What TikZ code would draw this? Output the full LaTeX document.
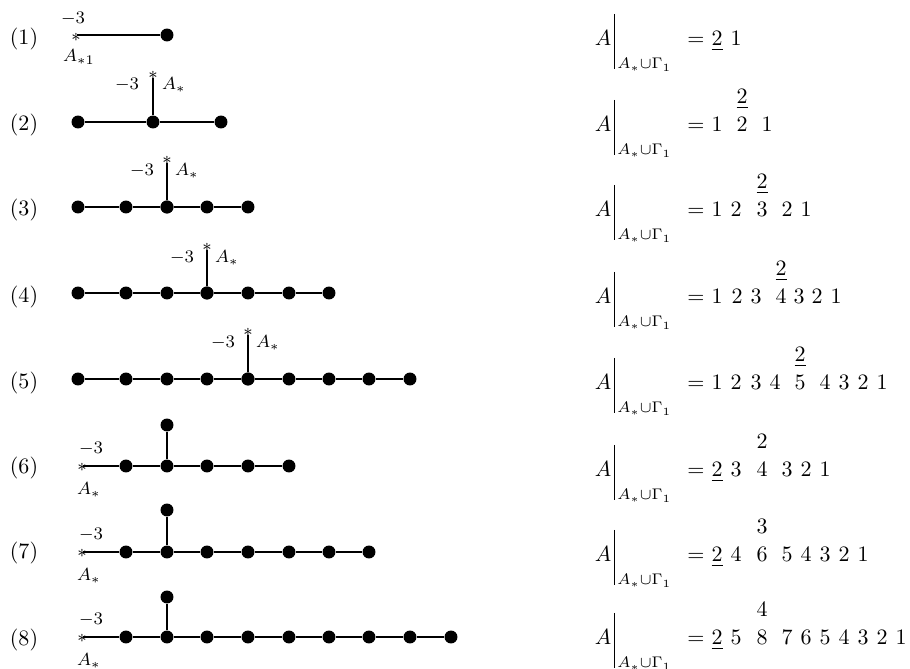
\documentclass[tikz,border=0pt]{standalone}
\usepackage{amsmath}
\newcommand{\restrA}[2]{%
  \node[num] (A#1) at (603,#2+7) {$A$};
  \coordinate (Bt#1) at (614,#2-25);
  \coordinate (Bb#1) at (614,#2+30);
  \draw[barline] (Bt#1) -- (Bb#1);
  \node[inner sep=0pt,anchor=base west] (S#1) at (617,#2+30) {$\scriptstyle A_*\cup\Gamma_1$};
  \node[num] (E#1) at (696,#2+7) {$=$};
}
\begin{document}
\begin{tikzpicture}[x=0.4545pt,y=-0.4545pt,
  dotn/.style={circle,fill=black,inner sep=0pt,minimum size=5.9pt},
  bond/.style={line width=1pt},
  barline/.style={line width=0.45pt},
  lbl/.style={inner sep=0pt,font=\footnotesize},
  starn/.style={inner sep=0pt,font=\footnotesize},
  num/.style={inner sep=0pt,anchor=base},
  rowlbl/.style={inner sep=0pt}]
\useasboundingbox (0,0) rectangle (910,669);

% ---------- row labels
\foreach \i/\y in {1/39,2/125,3/210,4/297,5/383,6/468,7/553,8/640}
  \node[rowlbl] (L\i) at (24,\y) {(\i)};

% ---------- row 1
\coordinate (s1) at (77,35);
\node[starn] (st1) at (76,37.5) {$*$};
\node[dotn] (r1a) at (167,35) {};
\draw[bond] (s1) -- (r1a);
\node[lbl] (m1) at (73,19) {$-3$};
\node[lbl] (a1) at (79,57) {$A_{*1}$};

% ---------- row 2
\node[dotn] (r2a) at (78,122) {};
\node[dotn] (r2b) at (153,122) {};
\node[dotn] (r2c) at (221,122) {};
\node[starn] (st2) at (153,75) {$*$};
\coordinate (t2) at (153,78);
\draw[bond] (r2a) -- (r2b) -- (r2c);
\draw[bond] (r2b) -- (t2);
\node[lbl] (m2) at (127,85) {$-3$};
\node[lbl] (a2) at (174,85) {$A_*$};

% ---------- rows 3-5 (vertical star)
\foreach \r/\y/\list/\c/\sy in {3/207/{78,126,167,207,248}/167/160,
                              4/293/{78,126,167,207,248,289,329}/207/247,
                              5/379/{78,126,167,207,248,289,329,369,410}/248/332}{
  \foreach \x [count=\k] in \list {
    \node[dotn] (r\r-\k) at (\x,\y) {};
  }
  \foreach \x [count=\k, remember=\k as \kp (initially 0)] in \list {
    \ifnum\k>1 \draw[bond] (r\r-\kp) -- (r\r-\k); \fi
  }
  \node[dotn] (c\r) at (\c,\y) {};
  \node[starn] (st\r) at (\c,\sy) {$*$};
  \coordinate (t\r) at (\c,\sy+3);
  \draw[bond] (c\r) -- (t\r);
  \node[lbl] (m\r) at (\c-25,\sy+11) {$-3$};
  \node[lbl] (a\r) at (\c+20,\sy+11) {$A_*$};
}

% ---------- rows 6-8 (star at left end)
\foreach \r/\y/\list/\ty in {6/466/{126,167,207,248,289}/425,
                          7/552/{126,167,207,248,289,329,369}/510,
                          8/637/{126,167,207,248,289,329,369,410,451}/597}{
  \coordinate (s\r) at (83,\y);
  \node[starn] (st\r) at (82,\y+1.5) {$*$};
  \foreach \x [count=\k] in \list {
    \node[dotn] (r\r-\k) at (\x,\y) {};
  }
  \draw[bond] (s\r) -- (r\r-1);
  \foreach \x [count=\k, remember=\k as \kp (initially 0)] in \list {
    \ifnum\k>1 \draw[bond] (r\r-\kp) -- (r\r-\k); \fi
  }
  \node[dotn] (top\r) at (167,\ty) {};
  \draw[bond] (r\r-2) -- (top\r);
  \node[lbl] (m\r) at (91,\y-17) {$-3$};
  \node[lbl] (a\r) at (89,\y+24) {$A_*$};
}

% ---------- right-hand side
\restrA{1}{39}
\foreach \x/\d in {717/\underline{2},736/1}
  \node[num] (d1-\x) at (\x,46) {$\d$};

\restrA{2}{125}
\node[num] (top2) at (742,104) {$\underline{2}$};
\foreach \x/\d in {717/1,742/2,767/1}
  \node[num] (d2-\x) at (\x,132) {$\d$};

\restrA{3}{210}
\node[num] (top3) at (762,189) {$\underline{2}$};
\foreach \x/\d in {717/1,736/2,762/3,787/2,806/1}
  \node[num] (d3-\x) at (\x,217) {$\d$};

\restrA{4}{297}
\node[num] (top4) at (781,276) {$\underline{2}$};
\foreach \x/\d in {717/1,737/2,756/3,781/4,799/3,817/2,836/1}
  \node[num] (d4-\x) at (\x,304) {$\d$};

\restrA{5}{383}
\node[num] (top5) at (800,362) {$\underline{2}$};
\foreach \x/\d in {717/1,736/2,756/3,775/4,800/5,825/4,844/3,863/2,882/1}
  \node[num] (d5-\x) at (\x,390) {$\d$};

\restrA{6}{470}
\node[num] (top6r) at (762,449) {$2$};
\foreach \x/\d in {717/\underline{2},736/3,762/4,787/3,806/2,825/1}
  \node[num] (d6-\x) at (\x,477) {$\d$};

\restrA{7}{555}
\node[num] (top7r) at (762,534) {$3$};
\foreach \x/\d in {717/\underline{2},736/4,762/6,787/5,806/4,825/3,844/2,863/1}
  \node[num] (d7-\x) at (\x,562) {$\d$};

\restrA{8}{638}
\node[num] (top8r) at (762,617) {$4$};
\foreach \x/\d in {717/\underline{2},736/5,762/8,787/7,806/6,825/5,844/4,863/3,882/2,901/1}
  \node[num] (d8-\x) at (\x,645) {$\d$};
\end{tikzpicture}
\end{document}
